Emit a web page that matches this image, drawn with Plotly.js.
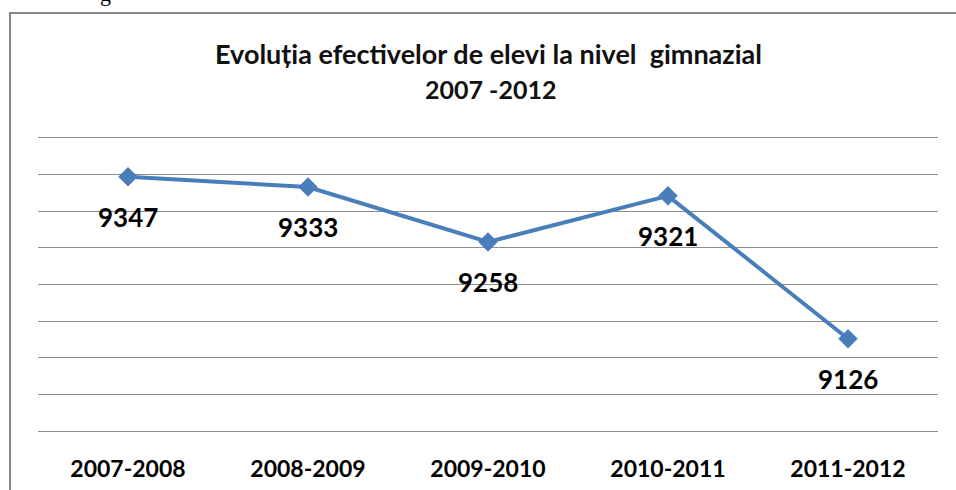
<!DOCTYPE html>
<html>
<head>
<meta charset="utf-8">
<script src="https://cdn.plot.ly/plotly-3.0.1.min.js"></script>
<style>
html,body{margin:0;padding:0;background:#fff;}
#wrap{position:relative;width:956px;height:490px;overflow:hidden;}
#chart{position:absolute;left:0;top:0;width:956px;height:490px;}
#border{position:absolute;left:9px;top:12px;width:960px;height:500px;border-left:2px solid #878787;border-top:2px solid #878787;pointer-events:none;}
#frag{position:absolute;left:100px;top:-19px;font-family:'Liberation Serif',serif;font-size:22px;color:#000;}
</style>
</head>
<body>
<div id="wrap">
<div id="chart"></div>
<div id="border"></div>
<div id="frag">g</div>
</div>
<script>
const categories = ["2007-2008", "2008-2009", "2009-2010", "2010-2011", "2011-2012"];
const students = [9347, 9333, 9258, 9321, 9126];
const titleLine1 = "Evoluția efectivelor de elevi la nivel  gimnazial";
const titleLine2 = "2007 -2012";

const blue = "#4A7EBB";
const font = "Lato, 'Open Sans', sans-serif";

const trace = {
  x: categories,
  y: students,
  type: "scatter",
  mode: "lines+markers",
  line: {color: blue, width: 4},
  marker: {symbol: "diamond", size: 15, color: blue},
  hoverinfo: "none",
  showlegend: false
};

const labelAnns = categories.map((c, i) => ({
  x: c, y: students[i], xref: "x", yref: "y",
  text: String(students[i]), showarrow: false,
  yshift: -40,
  font: {family: font, size: 26, color: "#000", weight: "bold"}
}));

const layout = {
  width: 956, height: 490,
  margin: {l: 38, r: 18, t: 138, b: 59, pad: 0},
  paper_bgcolor: "#fff", plot_bgcolor: "#fff",
  title: {
    text: titleLine1,
    x: 0.511, xanchor: "center",
    y: 1 - 55/490, yanchor: "middle",
    font: {family: font, size: 27, color: "#111", weight: "bold"}
  },
  xaxis: {
    type: "category",
    range: [-0.5, 4.5],
    showgrid: false,
    showline: true,
    mirror: true,
    linecolor: "#8c8c8c",
    linewidth: 1,
    zeroline: false,
    ticks: "",
    tickfont: {family: font, size: 23, color: "#000", weight: "bold"},
    ticklabelstandoff: 17,
    fixedrange: true
  },
  yaxis: {
    range: [9000, 9400],
    dtick: 50,
    tick0: 9000,
    showgrid: true,
    gridcolor: "#8c8c8c",
    gridwidth: 1,
    showticklabels: false,
    zeroline: false,
    showline: false,
    ticks: "",
    fixedrange: true
  },
  annotations: [
    {
      text: titleLine2, xref: "paper", yref: "paper",
      x: 0.503, y: (431 - 89) / (431 - 138), yanchor: "middle",
      showarrow: false,
      font: {family: font, size: 25, color: "#111", weight: "bold"}
    }
  ].concat(labelAnns)
};

Plotly.newPlot("chart", [trace], layout, {displayModeBar: false, staticPlot: true});
</script>
</body>
</html>
